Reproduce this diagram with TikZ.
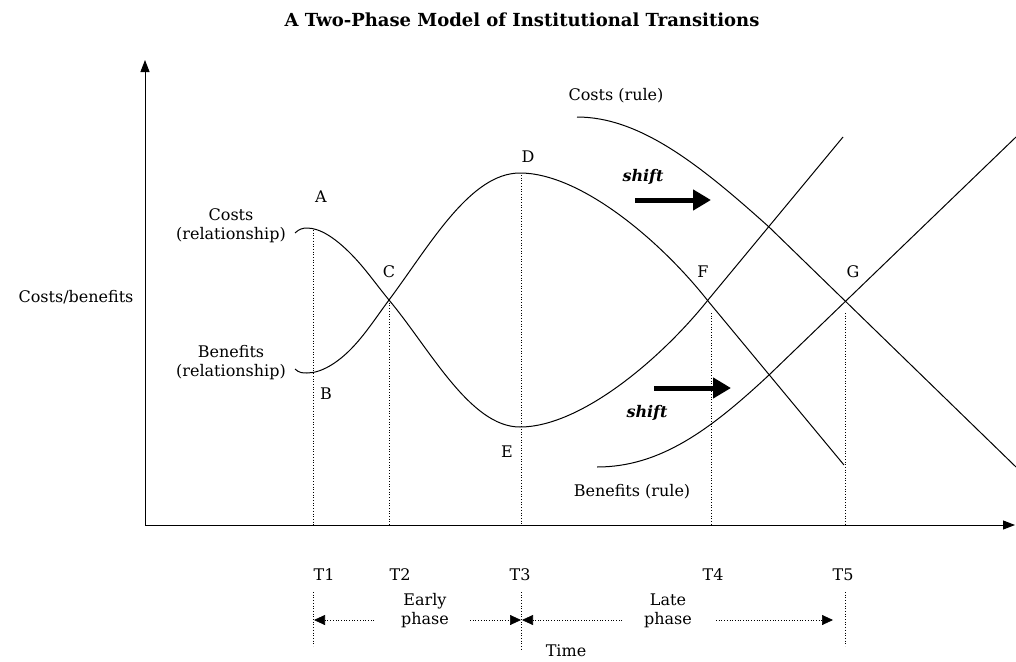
\documentclass[tikz,border=0pt]{standalone}
\usepackage{fontspec}
\setmainfont{DejaVu Serif}
\usepackage{tikz}
\usetikzlibrary{arrows.meta}

\begin{document}
\begin{tikzpicture}[x=1pt,y=-1pt,
  every node/.style={align=center, font=\fontsize{16}{19}\selectfont, inner sep=0pt},
  curve/.style={line width=1pt},
  guide/.style={dotted, line width=0.7pt},
  phase/.style={dotted, line width=0.7pt, -{Triangle[length=11pt,width=10pt]}},
  shiftarrow/.style={line width=5pt, -{Triangle[length=18pt,width=20pt]}}]
  \useasboundingbox (0,0) rectangle (1016,661);

  \node[font=\fontsize{18}{20}\selectfont\bfseries] (title) at (522,20) {A Two-Phase Model of Institutional Transitions};

  % axes
  \coordinate (o) at (145,525);
  \coordinate (ytop) at (145,60);
  \coordinate (xend) at (1015,525);
  \draw[line width=1pt, -{Triangle[length=12pt,width=9pt]}] (o) -- (ytop);
  \draw[line width=1pt, -{Triangle[length=12pt,width=9pt]}] (o) -- (xend);
  \node (ylab) at (76,297) {Costs/benefits};

  % relationship curves
  \draw[curve] (295,233) .. controls (299,229) and (303,228) .. (307,228)
    .. controls (320,228) and (335,238) .. (350,253)
    .. controls (365,268) and (375,283) .. (389,300)
    .. controls (430,349) and (470,427) .. (520,427)
    .. controls (580,427) and (660,360) .. (708,300) -- (843,137);
  \draw[curve] (295,369) .. controls (299,373) and (303,373) .. (307,373)
    .. controls (322,373) and (338,362) .. (350,350)
    .. controls (365,335) and (377,316) .. (389,300)
    .. controls (430,245) and (470,173) .. (520,173)
    .. controls (580,173) and (660,240) .. (708,301) -- (844,465);

  % rule curves
  \draw[curve] (577,117) .. controls (640,117) and (700,165) .. (769,227) -- (1016,467);
  \draw[curve] (597,467) .. controls (660,467) and (710,430) .. (769,375) -- (1016,137);

  % points
  \node (A) at (321,197) {A};
  \node (B) at (326,394) {B};
  \node (C) at (389,272) {C};
  \node (D) at (528,157) {D};
  \node (E) at (507,452) {E};
  \node (F) at (703,272) {F};
  \node (G) at (853,272) {G};

  \node (costrel) at (231,226) {Costs\\(relationship)};
  \node (benrel) at (231,363) {Benefits\\(relationship)};
  \node (costrule) at (616,96) {Costs (rule)};
  \node (benrule) at (632,492) {Benefits (rule)};

  % shifts
  \node[font=\fontsize{16}{19}\selectfont\bfseries\itshape] (s1) at (643,177) {shift};
  \node[font=\fontsize{16}{19}\selectfont\bfseries\itshape] (s2) at (647,413) {shift};
  \coordinate (s1a) at (635,200);
  \coordinate (s1b) at (711,200);
  \coordinate (s2a) at (654,388);
  \coordinate (s2b) at (731,388);
  \draw[shiftarrow] (s1a) -- (s1b);
  \draw[shiftarrow] (s2a) -- (s2b);

  % guides
  \draw[guide] (313,230) -- (313,525);
  \draw[guide] (389,300) -- (389,525);
  \draw[guide] (521,175) -- (521,525);
  \draw[guide] (711,313) -- (711,525);
  \draw[guide] (845,313) -- (845,525);

  % time axis
  \node (t1) at (324,575) {T1};
  \node (t2) at (400,575) {T2};
  \node (t3) at (520,575) {T3};
  \node (t4) at (713,575) {T4};
  \node (t5) at (843,575) {T5};
  \draw[guide] (313,592) -- (313,646);
  \draw[guide] (521,592) -- (521,650);
  \draw[guide] (845,592) -- (845,646);

  \node (early) at (425,611) {Early\\phase};
  \node (late) at (668,611) {Late\\phase};
  \node (time) at (566,651) {Time};
  \coordinate (e1) at (374,620);
  \coordinate (e2) at (470,620);
  \coordinate (l1) at (622,620);
  \coordinate (l2) at (716,620);
  \draw[phase] (e1) -- (314,620);
  \draw[phase] (e2) -- (521,620);
  \draw[phase] (l1) -- (522,620);
  \draw[phase] (l2) -- (833,620);
\end{tikzpicture}
\end{document}
